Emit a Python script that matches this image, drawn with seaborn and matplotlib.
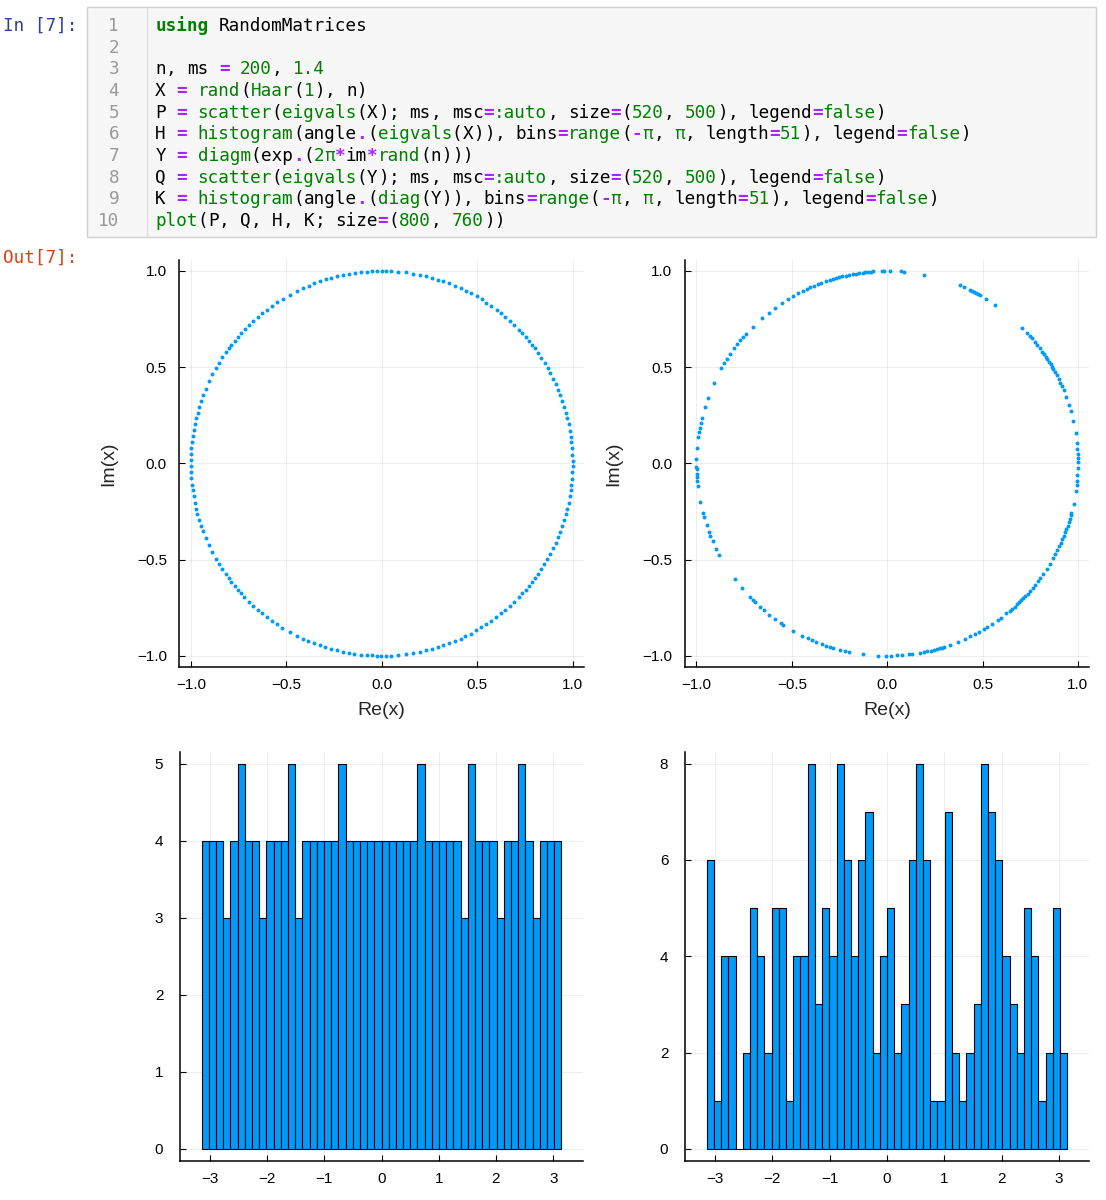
import re
import numpy as np
import pandas as pd
import seaborn as sns
import matplotlib
matplotlib.use("Agg")
import matplotlib.pyplot as plt
from matplotlib.patches import Rectangle
from matplotlib.lines import Line2D

haar_angles = [
    -179.2, -177.4, -175.5, -173.6, -171.9, -170.1, -168.2, -166.4,
    -164.8, -162.9, -161.1, -159.3, -157.2, -154.8, -152.4,
    -150.3, -148.4, -146.6, -144.8, -143.3, -141.9, -140.4, -139.0, -137.5,
    -136.0, -134.1, -132.3, -130.4, -128.8, -127.0, -125.1, -123.2,
    -121.3, -118.8, -116.3, -114.4, -112.6, -110.7, -108.9,
    -107.2, -105.3, -103.5, -101.6, -100.0, -98.2, -96.3, -94.5,
    -93.0, -91.5, -90.1, -88.6, -87.2, -85.2, -82.8, -80.4,
    -78.4, -76.5, -74.7, -72.8, -71.2, -69.3, -67.5, -65.6,
    -64.0, -62.2, -60.3, -58.5, -56.8, -54.9, -53.1, -51.2,
    -49.6, -47.8, -45.9, -44.0, -42.5, -41.0, -39.6, -38.1, -36.7,
    -35.2, -33.4, -31.5, -29.7, -28.0, -26.2, -24.3, -22.5,
    -20.8, -19.0, -17.1, -15.2, -13.6, -11.8, -9.9, -8.1,
    -6.4, -4.6, -2.7, -0.9, 0.8, 2.6, 4.5, 6.3,
    8.0, 9.8, 11.7, 13.5, 15.2, 17.0, 18.9, 20.7,
    22.4, 24.2, 26.1, 27.9, 29.6, 31.4, 33.3, 35.1,
    36.7, 38.1, 39.6, 41.0, 42.5, 44.0, 45.9, 47.7, 49.6,
    51.2, 53.0, 54.9, 56.7, 58.4, 60.2, 62.1, 63.9,
    65.6, 67.4, 69.3, 71.1, 72.8, 74.6, 76.5, 78.3,
    80.4, 82.8, 85.2, 87.1, 88.6, 90.0, 91.5, 92.9,
    94.4, 96.2, 98.1, 99.9, 101.6, 103.4, 105.3, 107.1,
    108.8, 110.6, 112.5, 114.3, 116.4, 118.8, 121.2,
    123.2, 125.0, 126.9, 128.7, 130.4, 132.2, 134.1, 135.9,
    137.5, 139.0, 140.4, 141.9, 143.3, 144.8, 146.6, 148.5, 150.3,
    152.4, 154.8, 157.2, 159.2, 161.0, 162.9, 164.7,
    166.4, 168.2, 170.1, 171.9, 173.6, 175.4, 177.3, 179.1,
]

diag_angles = [
    -179.0, -178.2, -176.9, -176.0, -174.6, -173.3, -168.5,
    -165.0, -163.8, -161.2, -159.0, -157.9, -156.1, -153.5, -151.7,
    -142.9, -139.5, -135.9, -134.6, -133.8, -131.7, -130.3,
    -128.2, -126.0, -123.9, -123.1, -119.6, -116.4,
    -114.5, -113.1, -111.8, -110.0, -108.7,
    -107.3, -106.4, -104.2, -102.8, -101.5, -97.2,
    -92.6, -90.2, -88.9, -87.1, -85.5, -83.4, -82.6, -80.1,
    -78.8, -77.9, -76.7, -75.9, -74.8, -74.0, -73.2, -72.5,
    -70.6, -68.3, -66.0, -64.1, -62.5, -61.2, -59.6, -58.3,
    -56.7, -54.6, -53.5, -51.3,
    -49.9, -49.0, -48.1, -47.0, -46.2, -45.3, -44.5, -43.7,
    -42.6, -41.4, -40.3, -39.1, -37.8, -36.6,
    -35.1, -33.2, -31.5, -29.6,
    -28.2, -26.9, -25.6, -24.4, -23.3, -22.1,
    -21.0, -20.0, -18.9, -17.8, -16.8, -15.7, -14.9,
    -12.1, -8.4, -6.5, -5.2, -3.6, -1.4,
    0.3, 1.5, 2.9, 4.4, 6.2, 9.0, 12.8, 15.9, 17.6, 20.3,
    22.3, 23.7, 24.8, 26.0, 27.2, 28.3,
    29.3, 30.2, 31.0, 31.9, 32.8, 33.7, 34.6, 35.5,
    36.8, 38.0, 39.2, 40.5, 41.6, 42.7, 44.8, 55.5,
    58.9, 60.8, 61.6, 62.3, 62.9, 63.6, 64.2, 66.1, 67.6,
    78.8, 84.9, 85.9, 89.0, 90.8, 91.6,
    94.2, 94.9, 95.8, 96.6, 97.4, 98.5, 99.4, 100.3,
    101.5, 102.6, 103.6, 104.5, 105.5, 106.4, 107.5,
    108.8, 110.2, 111.3, 112.6, 113.8, 114.9,
    116.3, 118.0, 119.6, 121.5, 123.6, 126.0, 128.4, 131.0, 134.7,
    137.6, 139.0, 140.3, 141.7, 143.2, 145.3, 147.0, 148.6, 150.4,
    155.4, 160.3, 163.1, 166.3, 167.8, 169.4, 170.6, 172.0, 175.5, 178.6,
]

circle_ticks = [-1.0, -0.5, 0.0, 0.5, 1.0]
hist_xticks = [-3, -2, -1, 0, 1, 2, 3]
hist_yticks_left = [0, 1, 2, 3, 4, 5]
hist_yticks_right = [0, 2, 4, 6, 8]

code_lines = [
    "using RandomMatrices",
    "",
    "n, ms = 200, 1.4",
    "X = rand(Haar(1), n)",
    "P = scatter(eigvals(X); ms, msc=:auto, size=(520, 500), legend=false)",
    "H = histogram(angle.(eigvals(X)), bins=range(-π, π, length=51), legend=false)",
    "Y = diagm(exp.(2π*im*rand(n)))",
    "Q = scatter(eigvals(Y); ms, msc=:auto, size=(520, 500), legend=false)",
    "K = histogram(angle.(diag(Y)), bins=range(-π, π, length=51), legend=false)",
    "plot(P, Q, H, K; size=(800, 760))",
]

BLUE = "#009AFA"
W, H = 1106, 1200

sns.set_style("white")
plt.rcParams["font.family"] = ["Liberation Sans", "DejaVu Sans"]
plt.rcParams["axes.unicode_minus"] = True

fig = plt.figure(figsize=(W / 100, H / 100), dpi=100)


def fx(px):
    return px / W


def fy(py):
    return 1 - py / H


def axes_px(x0, y0, x1, y1):
    return fig.add_axes([fx(x0), fy(y1), fx(x1) - fx(x0), fy(y0) - fy(y1)])


# ---- notebook cell ----
fig.add_artist(Rectangle((fx(87.3), fy(236.7)), fx(1096) - fx(87.3), fy(7.3) - fy(236.7),
                         facecolor="#f7f7f7", edgecolor="#cfcfcf", lw=1.0,
                         transform=fig.transFigure))
fig.add_artist(Line2D([fx(146.7), fx(146.7)], [fy(7.8), fy(236.2)],
                      color="#dddddd", lw=1.0, transform=fig.transFigure))

mono = dict(family="DejaVu Sans Mono", size=12.67)
fig.text(fx(77), fy(31), "In [7]:", color="#303F9F", ha="right", va="baseline", **mono)
fig.text(fx(77), fy(263), "Out[7]:", color="#D84315", ha="right", va="baseline", **mono)

green_words = {"rand", "Haar", "scatter", "eigvals", "histogram", "diagm",
               "diag", "range", "plot", "false", "π"}
token_re = re.compile(r"\d+\.\d+|\d+|:[A-Za-z]+|[A-Za-zπ_][A-Za-z0-9_]*|\s+|.")
char_w = 10.59
line_h = 21.67

for i, line in enumerate(code_lines):
    base = 31.0 + i * line_h
    fig.text(fx(119), fy(base), str(i + 1), color="#999999", ha="right",
             va="baseline", **mono)
    col = 0
    for tok in token_re.findall(line):
        color, weight = "black", "normal"
        if tok == "using":
            color, weight = "#008000", "bold"
        elif tok[0].isdigit() or tok.startswith(":") or tok in green_words:
            color = "#008000"
        elif tok in "=.*-" and tok.strip():
            color, weight = "#AA22FF", "bold"
        if tok.strip():
            fig.text(fx(155.3 + col * char_w), fy(base), tok, color=color,
                     weight=weight, ha="left", va="baseline", **mono)
        col += len(tok)


# ---- plots ----
def style_axes(ax, ypad):
    sns.despine(ax=ax)
    for s in ("left", "bottom"):
        ax.spines[s].set_linewidth(1.1)
        ax.spines[s].set_color("black")
    ax.grid(True, color="black", alpha=0.1, lw=0.5)
    ax.set_axisbelow(True)
    ax.tick_params(direction="in", length=4, width=0.8, labelsize=11,
                   colors="black", left=True, bottom=True)
    ax.tick_params(axis="y", pad=ypad)
    ax.tick_params(axis="x", pad=8)


def circle_panel(ax, angles_deg):
    t = np.radians(np.array(angles_deg))
    df = pd.DataFrame({"re": np.cos(t), "im": np.sin(t)})
    sns.scatterplot(data=df, x="re", y="im", ax=ax, s=8, color=BLUE,
                    linewidth=0, legend=False)
    ax.set_xlim(-1.06, 1.06)
    ax.set_ylim(-1.057, 1.057)
    ax.set_xticks(circle_ticks)
    ax.set_yticks(circle_ticks)
    style_axes(ax, 9)
    ax.set_xlabel("Re(x)", fontsize=14)
    ax.set_ylabel("Im(x)", fontsize=14)
    ax.xaxis.label.set_va("center")
    ax.yaxis.label.set_va("center")
    ax.xaxis.set_label_coords(0.5, -0.1065)
    ax.yaxis.set_label_coords(-0.1754, 0.5)


def hist_panel(ax, angles_deg, yticks, ymax):
    t = np.radians(np.array(angles_deg))
    edges = np.linspace(-np.pi, np.pi, 51)
    sns.histplot(x=t, bins=edges, ax=ax, color=BLUE, edgecolor="black",
                 linewidth=0.8, alpha=1.0)
    ax.set_xlim(-3.52, 3.52)
    ax.set_ylim(-0.03 * ymax, ymax * 1.03)
    ax.set_xticks(hist_xticks)
    ax.set_yticks(yticks)
    style_axes(ax, 12)
    ax.set_xlabel("")
    ax.set_ylabel("")


ax_p = axes_px(179.3, 260, 584, 666.7)
ax_q = axes_px(685, 260, 1089.3, 666.7)
ax_h = axes_px(180, 752, 583, 1160.5)
ax_k = axes_px(685, 752, 1089, 1160.5)

circle_panel(ax_p, haar_angles)
circle_panel(ax_q, diag_angles)
hist_panel(ax_h, haar_angles, hist_yticks_left, 5)
hist_panel(ax_k, diag_angles, hist_yticks_right, 8)

fig.savefig("out.png", dpi=100, facecolor="white")
